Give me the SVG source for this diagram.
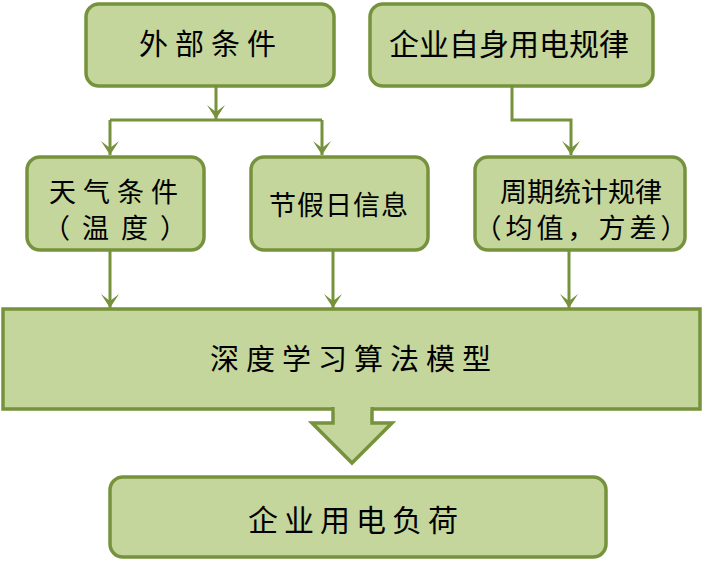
<svg xmlns="http://www.w3.org/2000/svg" width="704" height="561" viewBox="0 0 704 561">
<style>
.box{fill:#c4d69b;stroke:#76923c;stroke-width:3.5}
.t{font-family:"Noto Sans CJK SC","Noto Sans CJK JP",sans-serif;fill:#000;text-anchor:middle}
.c{fill:none;stroke:#76923c;stroke-width:3}
</style>
<defs>
<marker id="ah" viewBox="0 0 14 18" refX="14" refY="9" markerWidth="15" markerHeight="18" markerUnits="userSpaceOnUse" orient="auto">
<path d="M0,0 L7,9 L0,18 L14,9 z" fill="#76923c"/>
</marker>
</defs>
<rect width="704" height="561" fill="#fff"/>
<g id="connectors">
<path class="c" d="M216,86 V119" marker-end="url(#ah)"/>
<path class="c" d="M110,120 H322"/>
<path class="c" d="M110,120 V155" marker-end="url(#ah)"/>
<path class="c" d="M322,120 V155" marker-end="url(#ah)"/>
<path class="c" d="M512,86 V120 H571 V155" marker-end="url(#ah)"/>
<path class="c" d="M110,250 V308" marker-end="url(#ah)"/>
<path class="c" d="M333,250 V308" marker-end="url(#ah)"/>
<path class="c" d="M569,250 V308" marker-end="url(#ah)"/>
</g>
<g id="n1">
<rect class="box" x="86" y="4" width="248" height="82" rx="13"/>
<text class="t" x="211" y="55" font-size="29" letter-spacing="7">外部条件</text>
</g>
<g id="n2">
<rect class="box" x="370" y="4" width="283" height="82" rx="13"/>
<text class="t" x="509" y="55" font-size="30">企业自身用电规律</text>
</g>
<g id="n3">
<rect class="box" x="27" y="157" width="177" height="93" rx="13"/>
<text class="t" x="117" y="202" font-size="27" letter-spacing="7">天气条件</text>
<text class="t" x="121" y="238" font-size="27" letter-spacing="12">（温度）</text>
</g>
<g id="n4">
<rect class="box" x="251" y="157" width="177" height="93" rx="13"/>
<text class="t" x="339" y="215" font-size="27" letter-spacing="1">节假日信息</text>
</g>
<g id="n5">
<rect class="box" x="475" y="157" width="210" height="93" rx="13"/>
<text class="t" x="581" y="202" font-size="27">周期统计规律</text>
<text class="t" x="583" y="238" font-size="27" letter-spacing="4">（均值，方差）</text>
</g>
<g id="n6">
<rect class="box" x="3" y="309" width="697" height="100"/>
<path d="M333,407 V423 H312 L352,463 L392,423 H372 V407" fill="#c4d69b" stroke="#76923c" stroke-width="3.5" stroke-linejoin="miter"/>
<rect x="334.8" y="404" width="35.4" height="8" fill="#c4d69b"/>
<text class="t" x="354" y="370" font-size="29" letter-spacing="7">深度学习算法模型</text>
</g>
<g id="n7">
<rect class="box" x="110" y="477" width="496" height="80" rx="13"/>
<text class="t" x="356" y="531" font-size="30" letter-spacing="6">企业用电负荷</text>
</g>
</svg>
